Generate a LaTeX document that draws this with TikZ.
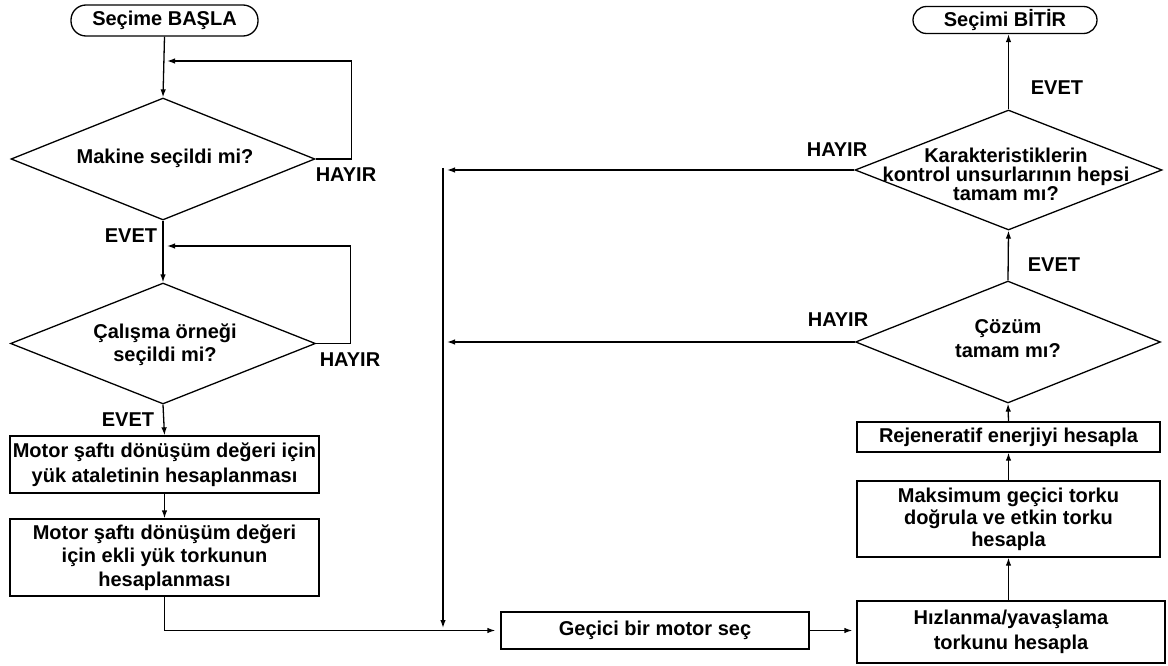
\documentclass[tikz,border=0pt]{standalone}
\usepackage{fontspec}
\setmainfont{Liberation Sans}
\usetikzlibrary{shapes.geometric,arrows.meta}
\newcommand{\fsz}[1]{\bfseries\fontsize{20}{#1}\selectfont}
\begin{document}
\begin{tikzpicture}[x=1pt,y=-1pt,
  line width=1.3pt,
  every node/.style={line width=1.3pt},
  arr/.style={-{Latex[length=8pt,width=5.5pt]}},
  term/.style={draw,rectangle,rounded corners=15pt,inner sep=0pt,font=\fsz{24}},
  stepbox/.style={draw,rectangle,inner sep=0pt,align=center},
  dia/.style={draw,diamond,inner sep=0pt},
  txt/.style={inner sep=0pt,align=center},
  lbl/.style={inner sep=0pt,font=\fsz{24}}]
\useasboundingbox (0,0) rectangle (1168,666);

% left column
\node[term,minimum width=187pt,minimum height=31pt] (start) at (164.5,20.5) {Seçime BAŞLA};
\node[dia,minimum width=304pt,minimum height=122pt] (d1) at (163,159) {};
\node[txt,font=\fsz{24}] (d1t) at (165,158) {Makine seçildi mi?};
\node[lbl] (h1) at (346,175) {HAYIR};
\node[lbl] (e1) at (131,236) {EVET};

\node[dia,minimum width=305pt,minimum height=121pt] (d2) at (163,343.5) {};
\node[txt,font=\fsz{23}] (d2t) at (165,345) {Çalışma örneği\\seçildi mi?};
\node[lbl] (h2) at (350,360) {HAYIR};
\node[lbl] (e2) at (128,420) {EVET};

\node[stepbox,minimum width=309pt,minimum height=57pt,font=\fsz{25}] (b1) at (164.5,464.5) {Motor şaftı dönüşüm değeri için\\yük ataletinin hesaplanması};
\node[stepbox,minimum width=309pt,minimum height=77pt,font=\fsz{23.5}] (b2) at (164.5,557.5) {Motor şaftı dönüşüm değeri\\için ekli yük torkunun\\hesaplanması};

% bottom
\node[stepbox,minimum width=308pt,minimum height=37pt,font=\fsz{24}] (g) at (655,630.5) {Geçici bir motor seç};
\node[stepbox,minimum width=308pt,minimum height=62pt,font=\fsz{25}] (hz) at (1011,632) {Hızlanma/yavaşlama\\torkunu hesapla};

% right column
\node[stepbox,minimum width=303pt,minimum height=76pt,font=\fsz{22}] (mk) at (1008.5,519) {Maksimum geçici torku\\doğrula ve etkin torku\\hesapla};
\node[stepbox,minimum width=303pt,minimum height=30pt,font=\fsz{24}] (rj) at (1008.5,437) {Rejeneratif enerjiyi hesapla};
\node[dia,minimum width=305pt,minimum height=122pt] (d3) at (1008,342) {};
\node[txt,font=\fsz{24}] (d3t) at (1008,339) {Çözüm\\tamam mı?};
\node[lbl] (h3) at (838,320) {HAYIR};
\node[lbl] (e3) at (1054,265) {EVET};

\node[dia,minimum width=307pt,minimum height=120pt] (d4) at (1008.5,170) {};
\node[txt,font=\fsz{19}] (d4t) at (1006,174) {Karakteristiklerin\\kontrol unsurlarının hepsi\\tamam mı?};
\node[lbl] (h4) at (837,150) {HAYIR};
\node[lbl] (e4) at (1057,88) {EVET};

\node[term,minimum width=184pt,minimum height=27pt,rounded corners=13.5pt] (end) at (1005,20) {Seçimi BİTİR};

% coordinates
\coordinate (j1) at (167,61);
\coordinate (j2) at (167,246);
\coordinate (vtop) at (443,168);
\coordinate (vbot) at (443,628);
\coordinate (a4) at (447,170);
\coordinate (a3) at (447,342);

% connectors
\draw[arr] (start.south) -- (d1.north);
\draw[arr] (d1.east) -- ++(36,0) |- (j1);
\draw[arr] (d1.south) -- (d2.north);
\draw[arr] (d2.east) -- ++(34,0) |- (j2);
\draw[arr] (d2.south) -- (b1.north);
\draw[arr] (b1.south) -- (b2.north);
\draw[arr,shorten >=5pt] (b2.south) |- (g.west);
\draw[arr] (vtop) -- (vbot);
\draw[arr,shorten >=4pt] (g.east) -- (g.east -| hz.west);
\draw[arr] (hz.north -| mk.south) -- (mk.south);
\draw[arr] (mk.north) -- (rj.south);
\draw[arr] (rj.north) -- (d3.south);
\draw[arr] (d3.north) -- (d4.south);
\draw[arr] (d4.north) -- (end.south -| d4.north);
\draw[arr] (d4.west) -- (a4);
\draw[arr] (d3.west) -- (a3);
\end{tikzpicture}
\end{document}
